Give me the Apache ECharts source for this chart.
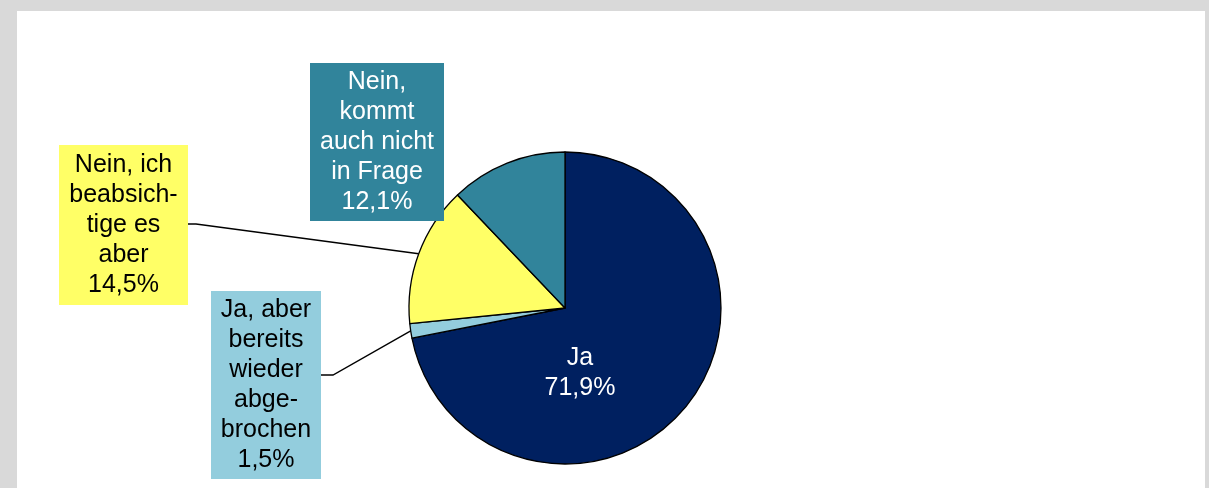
<!DOCTYPE html>
<html>
<head>
<meta charset="utf-8">
<script src="https://cdn.jsdelivr.net/npm/echarts@6/dist/echarts.min.js"></script>
<style>
  html, body { margin: 0; padding: 0; background: #d9d9d9; }
  #chart { width: 1209px; height: 488px; }
</style>
</head>
<body>
<div id="chart"></div>
<script>
// ---- data ----
const categories = [
  'Ja',
  'Ja, aber\nbereits\nwieder\nabge-\nbrochen',
  'Nein, ich\nbeabsich-\ntige es\naber',
  'Nein,\nkommt\nauch nicht\nin Frage'
];
const values = [71.9, 1.5, 14.5, 12.1];
const sliceColors = ['#002060', '#93CDDD', '#FFFF66', '#31849B'];
const labelTextColors = ['#ffffff', '#000000', '#000000', '#ffffff'];

// ---- label box layout (positions only) ----
const labelBoxes = [
  { cx: 580, top: 343, width: 80, pad: 0, bg: 'transparent', line: false },
  { cx: 266, top: 291, width: 110, pad: 4, bg: '#93CDDD', line: true, lineY: 375, len: 12 },
  { cx: 123.5, top: 145, width: 129, pad: 5, bg: '#FFFF66', line: true, lineY: 224, len: 8 },
  { cx: 377, top: 63, width: 134, pad: 4, bg: '#31849B', line: false }
];

const fmt = v => v.toFixed(1).replace('.', ',') + '%';

const chart = echarts.init(document.getElementById('chart'), null, { renderer: 'canvas' });

const seriesData = categories.map((name, i) => ({
  name: name,
  value: values[i],
  itemStyle: { color: sliceColors[i] },
  label: {
    position: i === 0 ? 'inside' : 'outside',
    color: labelTextColors[i],
    backgroundColor: labelBoxes[i].bg,
    width: labelBoxes[i].width,
    padding: [labelBoxes[i].pad, 0, labelBoxes[i].pad, 0],
    align: 'center'
  },
  labelLine: { show: labelBoxes[i].line }
}));

chart.setOption({
  backgroundColor: '#d9d9d9',
  animation: false,
  graphic: [{
    type: 'rect',
    z: -10,
    shape: { x: 17, y: 11, width: 1188, height: 480 },
    style: { fill: '#ffffff' }
  }],
  series: [{
    type: 'pie',
    center: [565, 308],
    radius: [0, 156],
    startAngle: 90,
    clockwise: true,
    avoidLabelOverlap: false,
    itemStyle: { borderColor: '#000000', borderWidth: 1.3 },
    emphasis: { disabled: true },
    label: {
      show: true,
      fontFamily: '"Liberation Sans", Arial, sans-serif',
      fontSize: 25,
      lineHeight: 30,
      formatter: p => p.name + '\n' + fmt(p.value)
    },
    labelLine: {
      lineStyle: { color: '#000000', width: 1.4 },
      smooth: false
    },
    labelLayout: function (params) {
      const b = labelBoxes[params.dataIndex];
      const res = { x: b.cx, y: b.top, align: 'center', verticalAlign: 'top' };
      if (b.line && params.labelLinePoints) {
        const right = b.cx + b.width / 2;
        res.labelLinePoints = [
          params.labelLinePoints[0],
          [right + b.len, b.lineY],
          [right, b.lineY]
        ];
      }
      return res;
    },
    data: seriesData
  }]
});
</script>
</body>
</html>
